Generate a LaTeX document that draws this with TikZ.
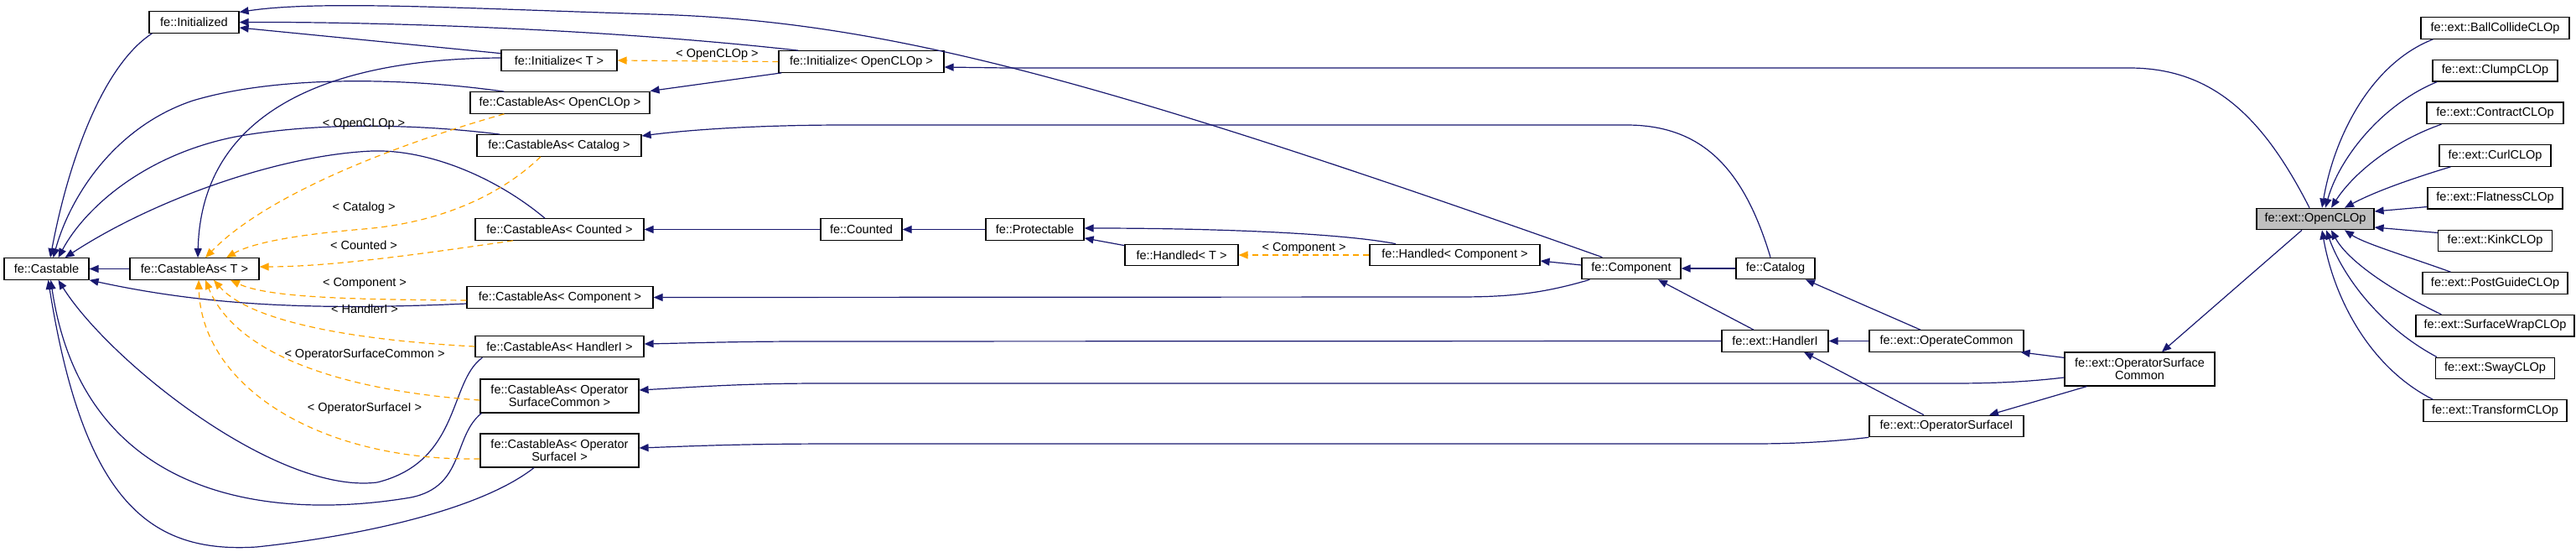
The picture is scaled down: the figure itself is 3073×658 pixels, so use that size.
\documentclass[tikz,border=0pt]{standalone}
\usepackage{fontspec}
\setmainfont{Liberation Sans}
\usetikzlibrary{arrows.meta}

\definecolor{edgeblue}{HTML}{191970}
\definecolor{tplorange}{HTML}{FFA500}
\definecolor{selgray}{HTML}{BFBFBF}

\tikzset{
	cls/.style={draw=black, line width=1.2pt, fill=white, minimum height=25.5pt, inner xsep=3pt, inner ysep=2pt, align=center, font=\fontsize{14.5}{15}\selectfont},
	inh/.style={draw=edgeblue, line width=1.2pt, -{Triangle[length=11pt,width=9pt]}},
	tpl/.style={draw=tplorange, line width=1.2pt, dash pattern=on 7pt off 5pt, -{Triangle[length=11pt,width=9pt]}},
	lbl/.style={inner sep=1pt, font=\fontsize{14.5}{15}\selectfont}
}

\begin{document}
\begin{tikzpicture}[x=1pt,y=-1pt]
			\useasboundingbox (0,0) rectangle (3073,658);
			
			% 绘制类节点
			\node[cls, minimum width=107] (Initialized) at (231.5,26.5) {fe::Initialized};
			\node[cls, minimum width=138] (InitT) at (667,72) {fe::Initialize< T >};
			\node[cls, minimum width=197] (InitOCL) at (1027.5,73.5) {fe::Initialize< OpenCLOp >};
			\node[cls, minimum width=214] (CastOCL) at (668,122.5) {fe::CastableAs< OpenCLOp >};
			\node[cls, minimum width=196] (CastCat) at (667,173.5) {fe::CastableAs< Catalog >};
			\node[cls, minimum width=201] (CastCnt) at (667.5,273.5) {fe::CastableAs< Counted >};
			\node[cls, minimum width=101] (Castable) at (55.5,320.5) {fe::Castable};
			\node[cls, minimum width=154] (CastT) at (232,320.5) {fe::CastableAs< T >};
			\node[cls, minimum width=222] (CastComp) at (668,354.5) {fe::CastableAs< Component >};
			\node[cls, minimum width=201] (CastHI) at (667.5,413) {fe::CastableAs< HandlerI >};
			\node[cls, minimum width=189, minimum height=40] (CastOSC) at (667.5,472) {fe::CastableAs< Operator\\SurfaceCommon >};
			\node[cls, minimum width=189, minimum height=40] (CastOSI) at (667.5,537) {fe::CastableAs< Operator\\SurfaceI >};
			\node[cls, minimum width=97] (Counted) at (1027.5,273.5) {fe::Counted};
			\node[cls, minimum width=117] (Protectable) at (1234.5,273.5) {fe::Protectable};
			\node[cls, minimum width=135] (HandledT) at (1409.5,304) {fe::Handled< T >};
			\node[cls, minimum width=203] (HandledComp) at (1735.5,304) {fe::Handled< Component >};
			\node[cls, minimum width=118] (Component) at (1946,320) {fe::Component};
			\node[cls, minimum width=94] (Catalog) at (2118,320) {fe::Catalog};
			\node[cls, minimum width=127] (HandlerI) at (2117.5,406.5) {fe::ext::HandlerI};
			\node[cls, minimum width=184] (OperateCommon) at (2322,406.5) {fe::ext::OperateCommon};
			\node[cls, minimum width=184] (OpSurfI) at (2322,508) {fe::ext::OperatorSurfaceI};
			\node[cls, minimum width=179, minimum height=40] (OpSurfCommon) at (2552.5,440) {fe::ext::OperatorSurface\\Common};
			\node[cls, minimum width=140, fill=selgray] (OpenCLOp) at (2762,261) {fe::ext::OpenCLOp};
			
			% 绘制子类
			\foreach \nm/\txt/\w [count=\i from 0] in {Ball/BallCollideCLOp/177, Clump/ClumpCLOp/149, Contract/ContractCLOp/163, Curl/CurlCLOp/133, Flatness/FlatnessCLOp/161, Kink/KinkCLOp/136, PostGuide/PostGuideCLOp/173, SurfaceWrap/SurfaceWrapCLOp/189, Sway/SwayCLOp/142, Transform/TransformCLOp/171}
				\node[cls, minimum width=\w] (\nm) at (2976.5,{33.5+50.67*\i}) {fe::ext::\txt};
			
			% 绘制继承关系
			\draw[inh] ([yshift=-5pt]InitT.north west) -- ([yshift=-6.5pt]Initialized.east);
			\draw[inh] ([xshift=24pt]InitOCL.north west) .. controls (700,32) and (420,26) .. (Initialized.east);
			\draw[inh] ([xshift=25pt]Component.north west) .. controls (1300,90) and (1050,25) .. (780,17) .. controls (550,10) and (380,0) .. ([yshift=12pt]Initialized.east);
			\draw[inh] ([xshift=4pt]Initialized.south west) .. controls (120,80) and (80,200) .. ([xshift=4.5pt]Castable.north);
			\draw[inh] ([yshift=3pt]InitT.west) .. controls (380,70) and (240,140) .. ([xshift=4pt]CastT.north);
			\draw[inh] ([xshift=41pt]CastOCL.north west) .. controls (480,92) and (330,90) .. (230,120) .. controls (140,150) and (85,230) .. ([xshift=8pt]Castable.north);
			\draw[inh] ([xshift=28pt]CastCat.north west) .. controls (500,148) and (380,145) .. (281,163) .. controls (170,185) and (100,250) .. ([xshift=14pt]Castable.north);
			\draw[inh] ([xshift=-17.5pt]CastCnt.north) .. controls (590,210) and (510,178) .. (444,180) .. controls (330,185) and (180,240) .. ([xshift=22pt]Castable.north);
			\draw[inh] (CastT) -- (Castable);
			\draw[inh] ([yshift=-7.5pt]CastComp.west) .. controls (380,370) and (250,365) .. (Castable.south east);
			\draw[inh] ([xshift=9pt]CastHI.south west) .. controls (535,455) and (550,550) .. (450,575) .. controls (330,590) and (130,430) .. ([xshift=14pt]Castable.south);
			\draw[inh] ([xshift=2pt]CastOSC.south west) .. controls (540,520) and (555,580) .. (490,593) .. controls (330,620) and (100,600) .. ([xshift=5pt]Castable.south);
			\draw[inh] ([xshift=-30.5pt]CastOSI.south) .. controls (570,610) and (420,640) .. (306,652) .. controls (180,660) and (100,600) .. ([xshift=2pt]Castable.south);
			\draw[inh] ([xshift=4pt]InitOCL.south west) -- ([yshift=14pt]CastOCL.east);
			\draw[inh] ([xshift=-6pt]Catalog.north) .. controls (2080,200) and (2030,149) .. (1940,149) -- (1010,149) .. controls (900,149) and (820,155) .. ([yshift=11.5pt]CastCat.east);
			\draw[inh] (Counted) -- (CastCnt);
			\draw[inh] (Protectable) -- (Counted);
			\draw[inh] ([yshift=-2pt]HandledT.north west) -- ([yshift=3pt]Protectable.south east);
			\draw[inh] ([xshift=-70.5pt]HandledComp.north) .. controls (1600,278) and (1450,272) .. ([yshift=1.5pt]Protectable.east);
			\draw[inh] ([yshift=4pt]Component.west) -- ([yshift=-7pt]HandledComp.east);
			\draw[inh] (Catalog) -- (Component);
			\draw[inh] ([xshift=10pt]Component.south west) .. controls (1840,350) and (1800,354) .. (1740,354) -- (CastComp.east);
			\draw[inh] ([xshift=-25.5pt]HandlerI.north) -- ([xshift=32pt]Component.south);
			\draw[inh] ([xshift=-31pt]OperateCommon.north) -- ([xshift=36pt]Catalog.south);
			\draw[inh] (HandlerI.west) -- (960,407) .. controls (880,407) and (820,409) .. ([yshift=3pt]CastHI.east);
			\draw[inh] (OperateCommon) -- (HandlerI);
			\draw[inh] ([xshift=-27pt]OpSurfI.north) -- ([xshift=34.5pt]HandlerI.south);
			\draw[inh] ([yshift=-10pt]OpSurfCommon.west) .. controls (2420,455) and (2380,457) .. (2330,457) -- (980,457) .. controls (880,457) and (820,462) .. ([yshift=7pt]CastOSC.east);
			\draw[inh] (OpSurfI.south west) .. controls (2180,527) and (2140,529) .. (2090,529) -- (1000,529) .. controls (880,529) and (820,532) .. ([yshift=3pt]CastOSI.east);
			\draw[inh] ([yshift=-7pt]OpSurfCommon.north west) -- ([xshift=-4pt]OperateCommon.south east);
			\draw[inh] ([xshift=27pt]OpSurfCommon.south west) -- ([xshift=51pt]OpSurfI.north);
			\draw[inh] ([xshift=-16pt]OpenCLOp.south) -- ([xshift=26.5pt]OpSurfCommon.north);
			\draw[inh] ([xshift=-7pt]OpenCLOp.north) .. controls (2700,140) and (2640,81) .. (2540,81) -- (1200,81) -- ([yshift=-6.5pt]InitOCL.east);
			
			% 子类到 OpenCLOp
			\draw[inh] ([xshift=15pt]Ball.south west) .. controls (2830,75) and (2785,160) .. ([xshift=8pt]OpenCLOp.north);
			\draw[inh] ([xshift=6pt]Clump.south west) .. controls (2840,125) and (2790,190) .. ([xshift=12pt]OpenCLOp.north);
			\draw[inh] ([xshift=18pt]Contract.south west) .. controls (2850,170) and (2805,210) .. ([xshift=19pt]OpenCLOp.north);
			\draw[inh] ([xshift=14pt]Curl.south west) .. controls (2870,215) and (2830,230) .. ([xshift=35pt]OpenCLOp.north);
			\draw[inh] ([yshift=3pt]Flatness.south west) -- ([yshift=9pt]OpenCLOp.east);
			\draw[inh] ([yshift=-4pt]Kink.north west) -- ([yshift=-10pt]OpenCLOp.east);
			\draw[inh] ([xshift=34pt]PostGuide.north west) .. controls (2870,305) and (2820,290) .. ([xshift=35pt]OpenCLOp.south);
			\draw[inh] ([xshift=31pt]SurfaceWrap.north west) .. controls (2850,345) and (2800,310) .. ([xshift=19pt]OpenCLOp.south);
			\draw[inh] ([xshift=2pt]Sway.north west) .. controls (2840,390) and (2795,330) .. ([xshift=13pt]OpenCLOp.south);
			\draw[inh] ([xshift=12pt]Transform.north west) .. controls (2830,440) and (2785,360) .. ([xshift=8pt]OpenCLOp.south);
			
			% 模板实例化（虚线）
			\draw[tpl] (InitOCL.west) -- (InitT.east) node[lbl, pos=0.38, above] {< OpenCLOp >};
			\draw[tpl] (HandledComp) -- (HandledT) node[lbl, midway, above] {< Component >};
			\draw[tpl] ([xshift=41pt]CastOCL.south west) .. controls (480,170) and (320,230) .. ([xshift=13pt]CastT.north);
			\draw[tpl] ([xshift=-22pt]CastCat.south) .. controls (600,230) and (530,265) .. (434,273) .. controls (350,280) and (300,290) .. ([xshift=38pt]CastT.north);
			\draw[tpl] ([xshift=-55.5pt]CastCnt.south) .. controls (520,300) and (400,318) .. ([yshift=2.5pt]CastT.east);
			\draw[tpl] ([yshift=-3.5pt]CastComp.west) .. controls (420,357) and (320,355) .. ([xshift=43pt]CastT.south);
			\draw[tpl] (CastHI.west) .. controls (430,406) and (300,385) .. ([xshift=23pt]CastT.south);
			\draw[tpl] ([yshift=-5pt]CastOSC.west) .. controls (400,465) and (280,420) .. ([xshift=13pt]CastT.south);
			\draw[tpl] ([yshift=-10pt]CastOSI.west) .. controls (380,550) and (240,460) .. ([xshift=5pt]CastT.south);
			
			% 添加标签
			\node[lbl] (lbOCL) at (434,148) {< OpenCLOp >};
			\node[lbl] (lbCat) at (434,248) {< Catalog >};
			\node[lbl] (lbCnt) at (434,292) {< Counted >};
			\node[lbl] (lbComp) at (435,338) {< Component >};
			\node[lbl] (lbHI) at (435,368) {< HandlerI >};
			\node[lbl] (lbOSC) at (435,423) {< OperatorSurfaceCommon >};
			\node[lbl] (lbOSI) at (435,487) {< OperatorSurfaceI >};
		\end{tikzpicture}
\end{document}
